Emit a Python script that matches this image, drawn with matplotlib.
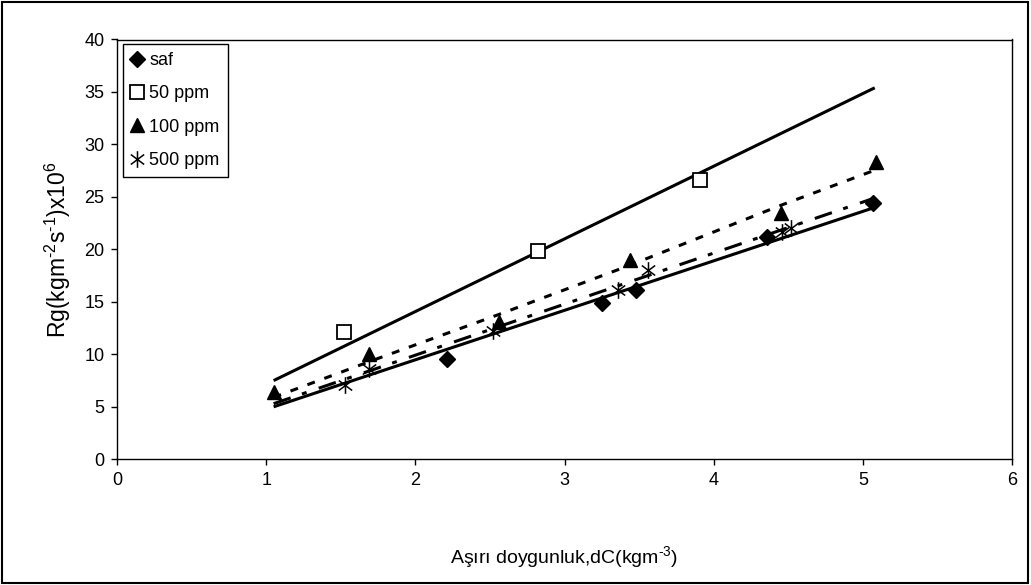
import matplotlib
matplotlib.use('Agg')
import matplotlib.pyplot as plt
from matplotlib.path import Path
from matplotlib.patches import Rectangle

plt.rcParams['font.family'] = ['Liberation Sans', 'DejaVu Sans']
plt.rcParams['mathtext.default'] = 'regular'

# measured points
saf_x = [2.21, 3.25, 3.48, 4.36, 5.07]
saf_y = [9.6, 14.9, 16.1, 21.2, 24.4]
ppm50_x = [1.52, 2.82, 3.91]
ppm50_y = [12.1, 19.8, 26.6]
ppm100_x = [1.05, 1.69, 2.56, 3.44, 4.45, 5.09]
ppm100_y = [6.4, 10.0, 13.1, 19.0, 23.5, 28.3]
ppm500_x = [1.53, 1.69, 2.52, 3.36, 3.56, 4.46, 4.52]
ppm500_y = [7.1, 8.6, 12.2, 16.1, 18.0, 21.7, 22.0]

# trend lines
saf_fit_x = [1.05, 5.08]
saf_fit_y = [5.0, 24.0]
ppm50_fit_x = [1.05, 5.08]
ppm50_fit_y = [7.5, 35.4]
ppm100_fit_x = [1.05, 1.69, 2.56, 3.44, 4.45, 5.09]
ppm100_fit_y = [5.9, 9.3, 13.8, 18.5, 24.2, 27.6]
ppm500_fit_x = [1.05, 5.08]
ppm500_fit_y = [5.3, 24.9]

labels = ['saf', '50 ppm', '100 ppm', '500 ppm']

# excel style asterisk: X plus a vertical bar
star = Path([(0, -1), (0, 1), (-0.8, -0.6), (0.8, 0.6), (-0.8, 0.6), (0.8, -0.6)],
            [Path.MOVETO, Path.LINETO, Path.MOVETO, Path.LINETO, Path.MOVETO, Path.LINETO])

fig = plt.figure(figsize=(10.31, 5.85), dpi=100)
ax = fig.add_axes([117 / 1031, 1 - 459.3 / 585, (1012 - 117) / 1031, (459.3 - 39.5) / 585])

lw = 2.2
ax.plot(saf_fit_x, saf_fit_y, color='black', lw=lw, solid_capstyle='butt')
ax.plot(ppm50_fit_x, ppm50_fit_y, color='black', lw=lw, solid_capstyle='butt')
ax.plot(ppm100_fit_x, ppm100_fit_y, color='black', lw=lw, dashes=(2.6, 3.3))
ax.plot(ppm500_fit_x, ppm500_fit_y, color='black', lw=lw, dashes=(5.9, 3.9, 1.6, 4.2))

ax.plot(saf_x, saf_y, ls='none', marker='D', ms=8.5, color='black', label=labels[0])
ax.plot(ppm50_x, ppm50_y, ls='none', marker='s', ms=10, mfc='white', mec='black', mew=1.3, label=labels[1])
ax.plot(ppm100_x, ppm100_y, ls='none', marker='^', ms=10, color='black', label=labels[2])
ax.plot(ppm500_x, ppm500_y, ls='none', marker=star, ms=12, mfc='none', mec='black', mew=1.1, label=labels[3])

ax.set_xlim(0, 6)
ax.set_ylim(0, 40)
ax.set_xticks(range(0, 7))
ax.set_yticks(range(0, 41, 5))
ax.tick_params(direction='out', length=4, width=1, labelsize=13, pad=5, colors='black')
for s in ax.spines.values():
    s.set_linewidth(1)
    s.set_color('black')

ax.set_xlabel('Aşırı doygunluk,dC(kgm$^{‐3}$)', fontsize=14, labelpad=40)
ax.set_ylabel('Rg(kgm$^{‐2}$s$^{‐1}$)x10$^{6}$', fontsize=16.5, labelpad=8)

leg = ax.legend(loc='upper left', bbox_to_anchor=(0.0067, 0.989), borderaxespad=0,
                fontsize=13, handlelength=0.7, handletextpad=0.3, labelspacing=0.9,
                borderpad=0.45, fancybox=False, framealpha=1, edgecolor='black')
leg.get_frame().set_linewidth(1)

fig.patches.append(Rectangle((0.002, 0.003), 0.995, 0.993, transform=fig.transFigure,
                             fill=False, lw=1.5, edgecolor='black'))

fig.savefig('out.png', dpi=100)
